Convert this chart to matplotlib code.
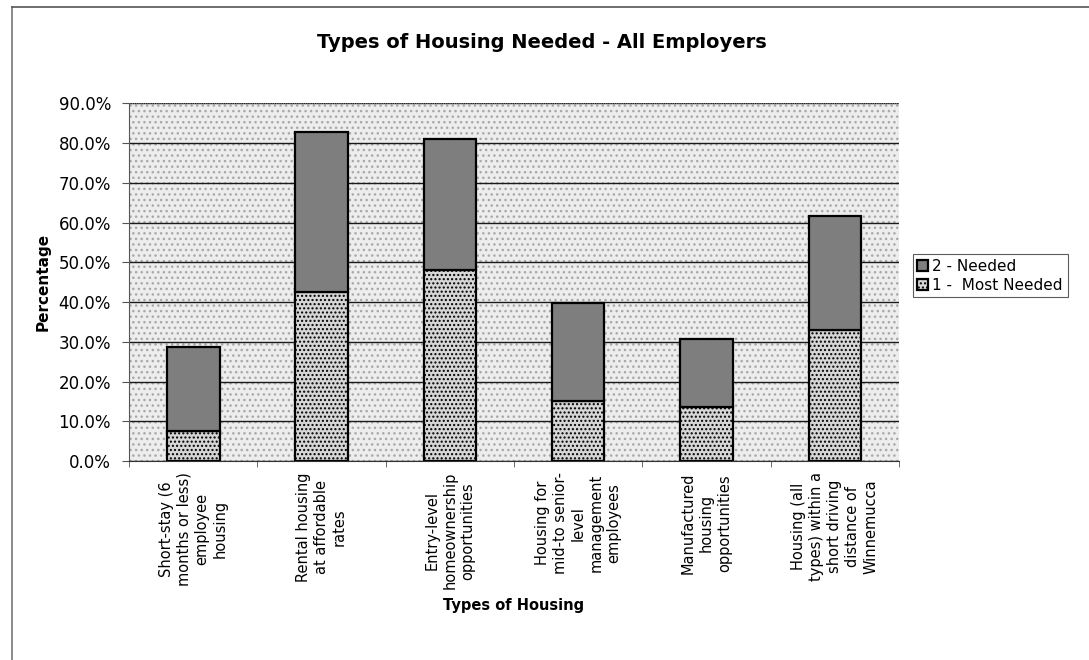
import matplotlib
matplotlib.use("Agg")
import matplotlib.pyplot as plt
from matplotlib.patches import Rectangle
from matplotlib.lines import Line2D
from matplotlib.ticker import FuncFormatter, MultipleLocator, FixedLocator
import numpy as np

categories = [
    "Short-stay (6\nmonths or less)\nemployee\nhousing",
    "Rental housing\nat affordable\nrates",
    "Entry-level\nhomeownership\nopportunities",
    "Housing for\nmid-to senior-\nlevel\nmanagement\nemployees",
    "Manufactured\nhousing\nopportunities",
    "Housing (all\ntypes) within a\nshort driving\ndistance of\nWinnemucca",
]
most_needed = [7.5, 42.4, 48.1, 15.2, 13.5, 32.9]
needed = [21.1, 40.3, 32.8, 24.6, 17.2, 28.8]

plt.rcParams.update({
    "font.family": "DejaVu Sans",
    "font.size": 11,
    "hatch.color": "#b0b0b0",
})

fig = plt.figure(figsize=(10.89, 6.6), dpi=100)
ax = fig.add_axes([0.1185, 0.3015, 0.707, 0.542])

# stippled plot area
ax.set_facecolor("#ededed")
ax.add_patch(Rectangle((0, 0), 1, 1, transform=ax.transAxes, facecolor="none",
                       edgecolor="#a8a8a8", hatch="...", linewidth=0, zorder=0))

x = np.arange(len(categories))
w = 0.41
ax.bar(x, most_needed, w, color="#d6d6d6", edgecolor="black", linewidth=1.6,
       hatch="....", label="1 -  Most Needed", zorder=3)
ax.bar(x, needed, w, bottom=most_needed, color="#7e7e7e", edgecolor="black",
       linewidth=1.6, label="2 - Needed", zorder=3)

ax.set_xlim(-0.5, len(categories) - 0.5)
ax.set_ylim(0, 90)
ax.yaxis.set_major_locator(MultipleLocator(10))
ax.yaxis.set_major_formatter(FuncFormatter(lambda v, p: f"{v:.1f}%"))
ax.grid(True, axis="y", color="#1a1a1a", linewidth=1.0, zorder=1)
ax.set_axisbelow(True)
# top gridline is faint/dotted in the original
ax.get_ygridlines()[-1].set_visible(False)
ax.axhline(90, color="#777777", linewidth=0.8, linestyle=(0, (1, 1)), zorder=1)

for s in ["top", "right"]:
    ax.spines[s].set_visible(False)
ax.spines["left"].set_color("#555555")
ax.spines["bottom"].set_color("#333333")

ax.set_xticks(x)
ax.set_xticklabels(categories, rotation=90, ha="center", va="top",
                   multialignment="center", fontsize=10.5, linespacing=1.25)
ax.tick_params(axis="x", length=0, pad=8)
ax.xaxis.set_minor_locator(FixedLocator(np.arange(-0.5, len(categories), 1.0)))
ax.tick_params(axis="x", which="minor", length=4, color="#555555")
ax.tick_params(axis="y", labelsize=12, length=5, pad=8, color="#555555")

ax.set_ylabel("Percentage", fontweight="bold", fontsize=11, labelpad=6)
ax.set_xlabel("Types of Housing", fontweight="bold", fontsize=10.5, labelpad=6)
fig.text(0.498, 0.935, "Types of Housing Needed - All Employers",
         ha="center", va="center", fontsize=14, fontweight="bold")

h, l = ax.get_legend_handles_labels()
leg = fig.legend(h[::-1], l[::-1], loc="center left", bbox_to_anchor=(0.838, 0.582),
                 frameon=True, fancybox=False, fontsize=11, handlelength=0.7,
                 handleheight=0.7, handletextpad=0.3, borderpad=0.3,
                 labelspacing=0.25, borderaxespad=0)
leg.get_frame().set_edgecolor("#333333")
leg.get_frame().set_linewidth(0.8)

# outer border of the chart (only left and top visible)
fig.add_artist(Line2D([0.011, 0.011], [0.0, 0.989], transform=fig.transFigure,
                      color="#777777", linewidth=1.2))
fig.add_artist(Line2D([0.011, 1.0], [0.989, 0.989], transform=fig.transFigure,
                      color="#555555", linewidth=1.2))

fig.savefig("out.png", dpi=100)
